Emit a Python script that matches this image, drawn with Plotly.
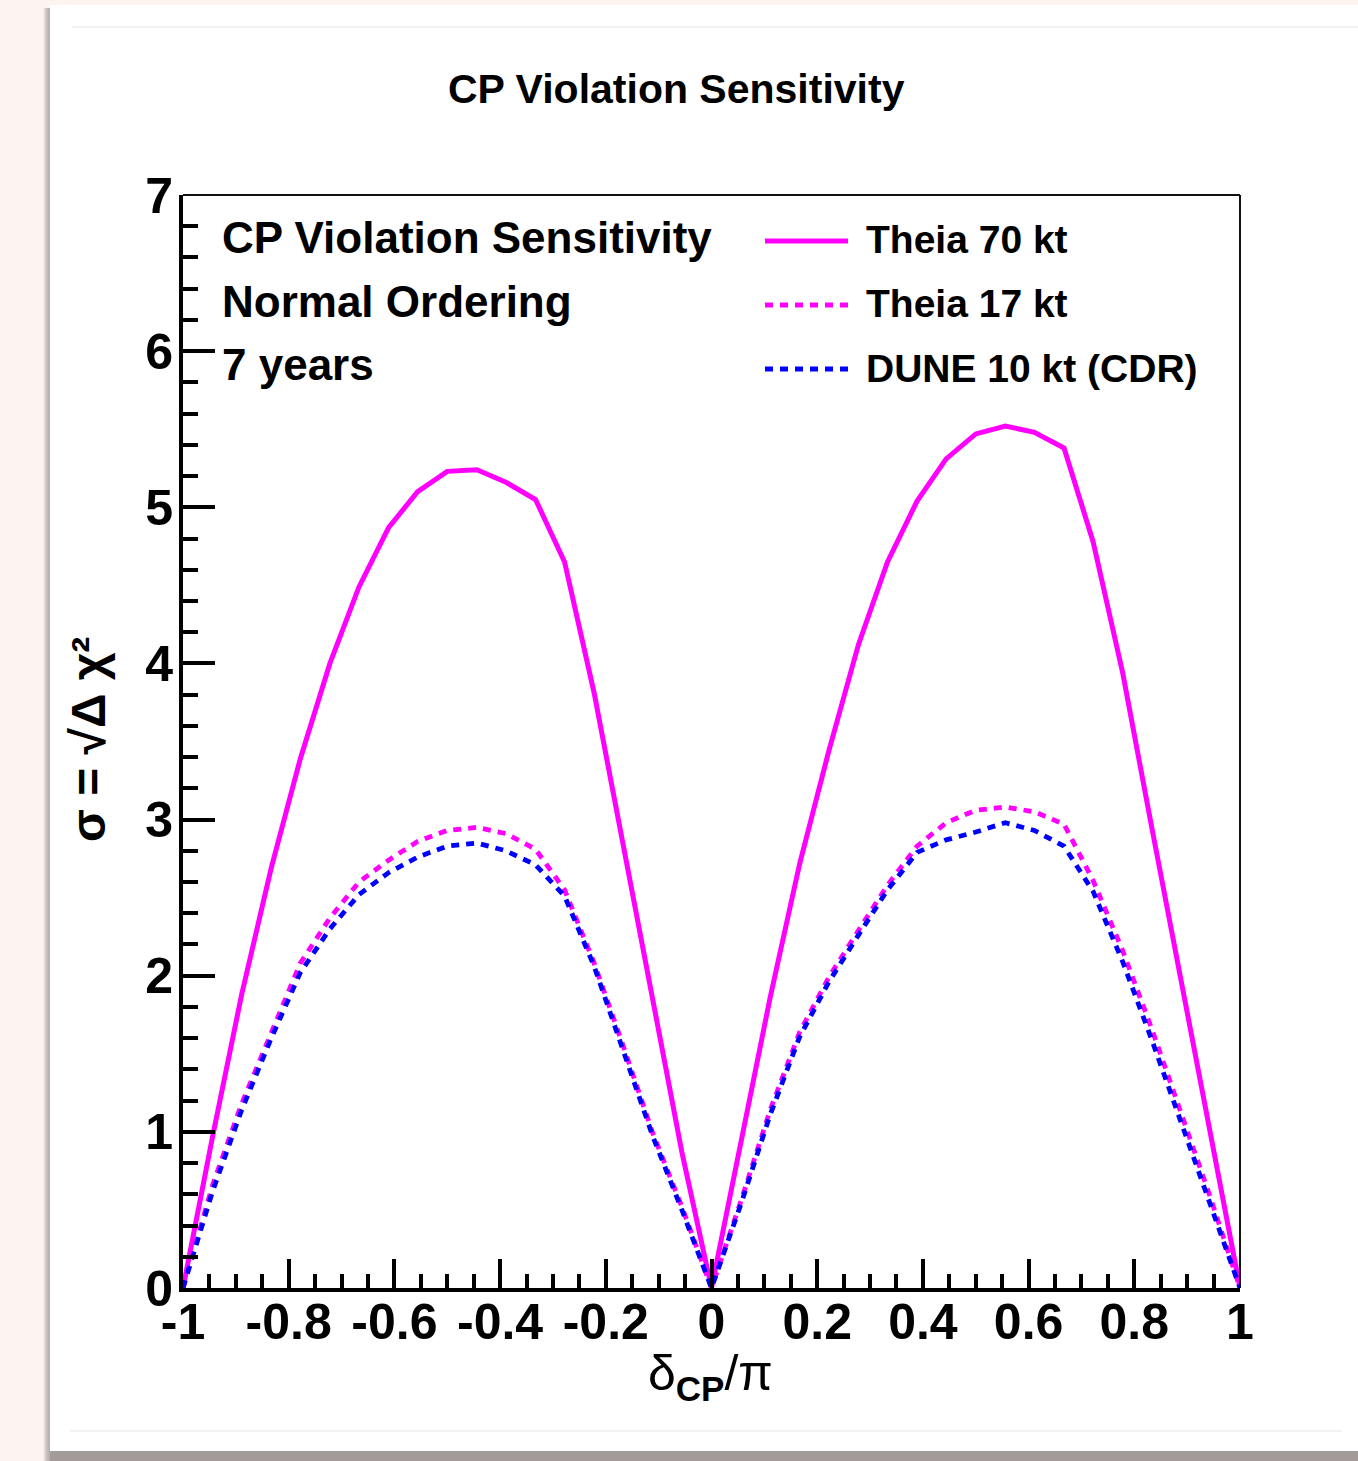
import plotly.graph_objects as go

# ---------------- data ----------------
delta_cp = [-1.0, -0.944, -0.889, -0.833, -0.778, -0.722, -0.667, -0.611, -0.556, -0.5,
            -0.444, -0.389, -0.333, -0.278, -0.222, -0.167, -0.111, -0.056, 0.0,
            0.056, 0.111, 0.167, 0.222, 0.278, 0.333, 0.389, 0.444, 0.5, 0.556,
            0.611, 0.667, 0.722, 0.778, 0.833, 0.889, 0.944, 1.0]

theia70 = [0.0, 0.97, 1.88, 2.69, 3.39, 4.00, 4.49, 4.87, 5.10, 5.23,
           5.24, 5.16, 5.05, 4.65, 3.81, 2.83, 1.85, 0.87, 0.0,
           0.93, 1.86, 2.72, 3.44, 4.12, 4.65, 5.04, 5.31, 5.47, 5.52,
           5.48, 5.38, 4.78, 3.94, 2.95, 1.96, 0.96, 0.0]

theia17 = [0.0, 0.66, 1.18, 1.64, 2.08, 2.37, 2.60, 2.74, 2.86, 2.93,
           2.95, 2.91, 2.81, 2.55, 2.08, 1.55, 0.99, 0.52, 0.0,
           0.56, 1.14, 1.64, 1.99, 2.29, 2.58, 2.83, 2.98, 3.06, 3.08,
           3.05, 2.97, 2.61, 2.16, 1.66, 1.12, 0.58, 0.0]

dune10 = [0.0, 0.62, 1.14, 1.60, 2.02, 2.30, 2.52, 2.66, 2.76, 2.83,
          2.85, 2.80, 2.71, 2.51, 2.06, 1.51, 0.97, 0.50, 0.0,
          0.54, 1.11, 1.61, 1.96, 2.26, 2.55, 2.79, 2.87, 2.92, 2.98,
          2.93, 2.83, 2.54, 2.09, 1.59, 1.06, 0.54, 0.0]

series_names = ["Theia 70 kt", "Theia 17 kt", "DUNE 10 kt (CDR)"]
series_colors = ["#ff00ff", "#ff00ff", "#0000ff"]
series_dash = ["solid", "8px,7px", "8px,7px"]

x_tickvals = [-1, -0.8, -0.6, -0.4, -0.2, 0, 0.2, 0.4, 0.6, 0.8, 1]
x_ticktext = ["-1", "-0.8", "-0.6", "-0.4", "-0.2", "0", "0.2", "0.4", "0.6", "0.8", "1"]
y_tickvals = [0, 1, 2, 3, 4, 5, 6, 7]

info_lines = ["CP Violation Sensitivity", "Normal Ordering", "7 years"]
title_text = "CP Violation Sensitivity"

# ---------------- layout geometry ----------------
W, H = 1358, 1461
L, R, T, B = 183, 118, 195, 173
PW, PH = W - L - R, H - T - B

def pxx(px):
    return (px - L) / PW

def pyy(py):
    return (H - B - py) / PH

FONT = "Liberation Sans, Arial, Helvetica, sans-serif"

fig = go.Figure()
for name, ys, col, dsh in zip(series_names, [theia70, theia17, dune10], series_colors, series_dash):
    fig.add_trace(go.Scatter(x=delta_cp, y=ys, mode="lines", name=name,
                             line=dict(color=col, width=5 if dsh == "solid" else 4.8, dash=dsh),
                             showlegend=False, hoverinfo="skip"))

shapes = []
# page background: white panel with shadow
shapes.append(dict(type="rect", xref="paper", yref="paper", layer="below",
                   x0=pxx(43), x1=pxx(1358), y0=pyy(1461), y1=pyy(1451),
                   fillcolor="#a39b99", line=dict(width=0)))
for i, c in enumerate(["#f3e9e7", "#e6dcda", "#d9cfcd", "#cdc4c2", "#c4bbb9", "#bdb5b3", "#b8b0ae"]):
    shapes.append(dict(type="rect", xref="paper", yref="paper", layer="below",
                       x0=pxx(43 + i), x1=pxx(44 + i), y0=pyy(1461), y1=pyy(8),
                       fillcolor=c, line=dict(width=0)))
shapes.append(dict(type="rect", xref="paper", yref="paper", layer="below",
                   x0=pxx(50), x1=pxx(1358), y0=pyy(1451), y1=pyy(5),
                   fillcolor="white", line=dict(width=0)))
shapes.append(dict(type="line", xref="paper", yref="paper", layer="below",
                   x0=pxx(72), x1=pxx(1358), y0=pyy(27), y1=pyy(27),
                   line=dict(color="#e6e6e6", width=1.2)))
shapes.append(dict(type="line", xref="paper", yref="paper", layer="below",
                   x0=pxx(70), x1=pxx(1342), y0=pyy(1431), y1=pyy(1431),
                   line=dict(color="#e6e6e6", width=1.2)))
# thin frame top / right
shapes.append(dict(type="line", xref="paper", yref="paper", x0=0, x1=1, y0=1, y1=1,
                   line=dict(color="#111111", width=2)))
shapes.append(dict(type="line", xref="paper", yref="paper", x0=1, x1=1, y0=0, y1=1,
                   line=dict(color="#111111", width=2)))

annotations = []
# legend (manual, ROOT style)
leg_rows = [241, 305, 369]
for name, col, dsh, ry in zip(series_names, series_colors, series_dash, leg_rows):
    shapes.append(dict(type="line", xref="paper", yref="paper",
                       x0=pxx(765), x1=pxx(848), y0=pyy(ry), y1=pyy(ry),
                       line=dict(color=col, width=4.8, dash=dsh)))
    annotations.append(dict(text="<b>%s</b>" % name, xref="paper", yref="paper",
                            x=pxx(864), y=pyy(ry - 1), xanchor="left", yanchor="middle",
                            showarrow=False, font=dict(family=FONT, size=39, color="black")))
for txt, ry in zip(info_lines, [237, 301, 365]):
    annotations.append(dict(text="<b>%s</b>" % txt, xref="paper", yref="paper",
                            x=pxx(220), y=pyy(ry), xanchor="left", yanchor="middle",
                            showarrow=False, font=dict(family=FONT, size=44, color="black")))
# title
annotations.append(dict(text="<b>%s</b>" % title_text, xref="paper", yref="paper",
                        x=pxx(676), y=pyy(89), xanchor="center", yanchor="middle",
                        showarrow=False,
                        font=dict(family=FONT, size=41, color="black")))
# axis titles
annotations.append(dict(text="δ<sub><b>CP</b></sub>/π", xref="paper", yref="paper",
                        x=pxx(710), y=pyy(1376), xanchor="center", yanchor="middle",
                        showarrow=False, font=dict(family=FONT, size=50, color="black")))
annotations.append(dict(text="<b>σ = √Δ χ²</b>", xref="paper", yref="paper",
                        x=pxx(88), y=pyy(740), xanchor="center", yanchor="middle",
                        textangle=-90, showarrow=False,
                        font=dict(family=FONT, size=48, color="black")))

fig.update_layout(
    width=W, height=H,
    margin=dict(l=L, r=R, t=T, b=B, pad=0),
    paper_bgcolor="#fdf3f1", plot_bgcolor="white",
    shapes=shapes, annotations=annotations,
    showlegend=False,
    xaxis=dict(range=[-1, 1], tickvals=x_tickvals, ticktext=x_ticktext,
               ticks="inside", ticklen=29, tickwidth=4, tickcolor="black",
               showline=True, linewidth=4, linecolor="black",
               showgrid=False, zeroline=False, ticklabelstandoff=-13,
               tickfont=dict(family=FONT, size=50, color="black", weight="bold"),
               minor=dict(dtick=0.05, tick0=0, ticks="inside", ticklen=14, tickwidth=4,
                          tickcolor="black", showgrid=False)),
    yaxis=dict(range=[0, 7], tickvals=y_tickvals,
               ticks="inside", ticklen=32, tickwidth=4, tickcolor="black",
               showline=True, linewidth=4, linecolor="black",
               showgrid=False, zeroline=False, ticklabelstandoff=-4,
               tickfont=dict(family=FONT, size=50, color="black", weight="bold"),
               minor=dict(dtick=0.2, tick0=0, ticks="inside", ticklen=15, tickwidth=4,
                          tickcolor="black", showgrid=False)),
)

fig.write_html("out.html")
